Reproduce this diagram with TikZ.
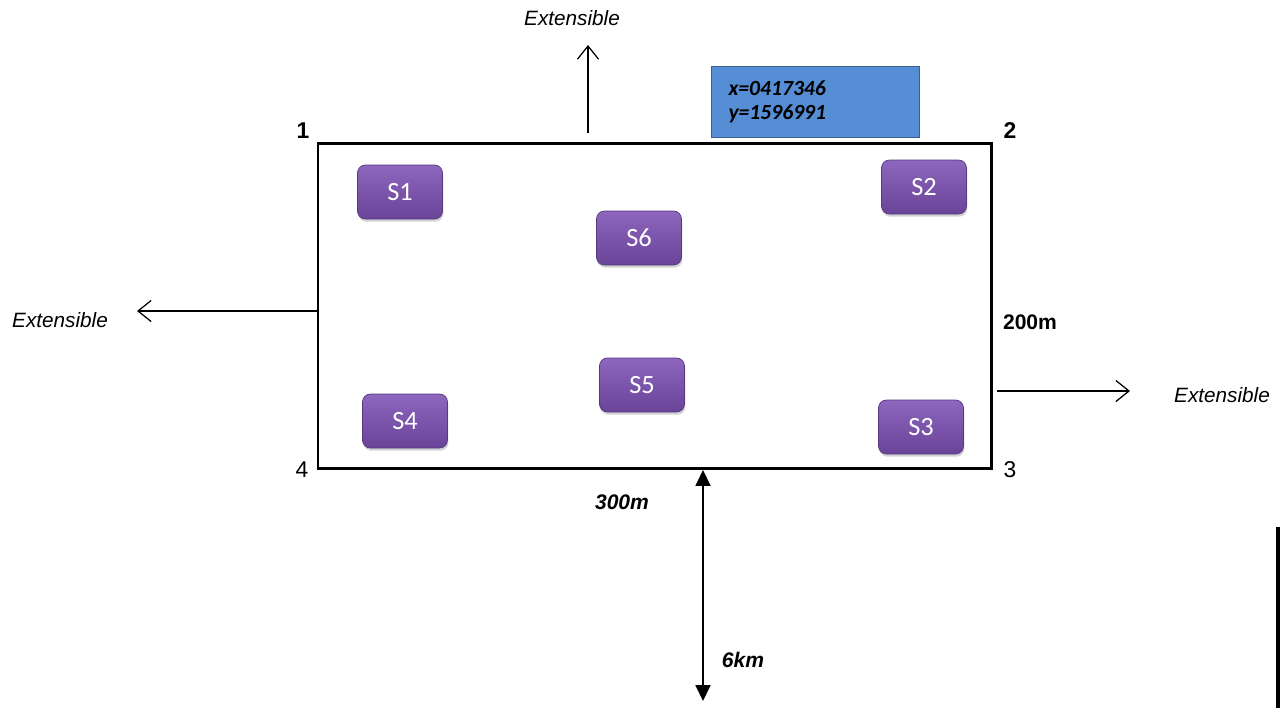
\documentclass[tikz,border=0pt]{standalone}
\usepackage{fontspec}
\setmainfont{Liberation Sans}
\newfontfamily\calibri{Carlito}
\usetikzlibrary{arrows.meta,shadows}
\definecolor{sttop}{HTML}{8D66BD}
\definecolor{stbot}{HTML}{6A4499}
\definecolor{stline}{HTML}{58387F}
\definecolor{gpsfill}{HTML}{558ED5}
\definecolor{gpsline}{HTML}{3D5F8C}
\tikzset{
  station/.style={rounded corners=4.5pt, top color=sttop, bottom color=stbot,
    draw=stline, line width=0.4pt, minimum width=1.7cm, minimum height=1.08cm,
    text=white, font=\calibri\fontsize{15}{16}\selectfont,
    drop shadow={shadow xshift=0.5pt, shadow yshift=-1.5pt, opacity=0.35}},
  ext/.style={font=\itshape\fontsize{11.8}{14}\selectfont},
  dim/.style={font=\bfseries\fontsize{12}{14}\selectfont},
  corner/.style={font=\fontsize{13}{14}\selectfont},
  openarrow/.style={-{Straight Barb[length=7.5pt,width=12pt]}, line width=0.7pt},
  bothway/.style={{Triangle[length=9pt,width=8.5pt]}-{Triangle[length=9pt,width=8.5pt]}, line width=0.8pt}
}
\begin{document}
\begin{tikzpicture}[x=0.02cm,y=-0.02cm]
  \useasboundingbox (0,0) rectangle (1282,708);
  % the site
  \coordinate (c1) at (318,143);
  \coordinate (c2) at (991,143);
  \coordinate (c3) at (991,468);
  \coordinate (c4) at (318,468);
  \draw[line width=1.7pt] (c1) -- (c2) -- (c3) -- (c4) -- cycle;
  \node[corner,font=\bfseries\fontsize{13}{14}\selectfont] (n1) at (303,131) {1};
  \node[corner,font=\bfseries\fontsize{13}{14}\selectfont] (n2) at (1010,131) {2};
  \node[corner] (n3) at (1010,470) {3};
  \node[corner] (n4) at (302,470) {4};
  % gps point
  \node[draw=gpsline, fill=gpsfill, line width=0.5pt, minimum width=4.16cm, minimum height=1.42cm,
        text width=3.46cm, align=left, inner xsep=0.35cm,
        font=\calibri\bfseries\itshape\fontsize{12.3}{12}\selectfont] (gps) at (815,101.5)
        {x=0417346\\[1.5pt]y=1596991};
  % stations
  \node[station] (S1) at (400,192) {S1};
  \node[station] (S2) at (924,187) {S2};
  \node[station] (S3) at (921,427) {S3};
  \node[station] (S4) at (405,421) {S4};
  \node[station] (S5) at (642,385) {S5};
  \node[station] (S6) at (639,238) {S6};
  % directions of extension
  \node[ext] (extN) at (572,18) {Extensible};
  \node[ext] (extW) at (60,320) {Extensible};
  \node[ext] (extE) at (1222,395) {Extensible};
  \coordinate (upA) at (588,133);
  \coordinate (upB) at (588,45);
  \coordinate (leftA) at (318,311);
  \coordinate (leftB) at (137,311);
  \coordinate (rightA) at (997,391);
  \coordinate (rightB) at (1130,391);
  \draw[openarrow] (upA) -- (upB);
  \draw[openarrow] (leftA) -- (leftB);
  \draw[openarrow] (rightA) -- (rightB);
  % dimensions
  \node[dim] (w) at (1030,322) {200m};
  \node[dim,font=\bfseries\itshape\fontsize{12}{14}\selectfont] (l) at (622,502) {300m};
  \node[dim,font=\bfseries\itshape\fontsize{12}{14}\selectfont] (d) at (743,660) {6km};
  \coordinate (dA) at (703,470);
  \coordinate (dB) at (703,701);
  \draw[bothway] (dA) -- (dB);
  % bar on the right
  \coordinate (barA) at (1278,527);
  \coordinate (barB) at (1278,708);
  \draw[line width=2.3pt] (barA) -- (barB);
\end{tikzpicture}
\end{document}
